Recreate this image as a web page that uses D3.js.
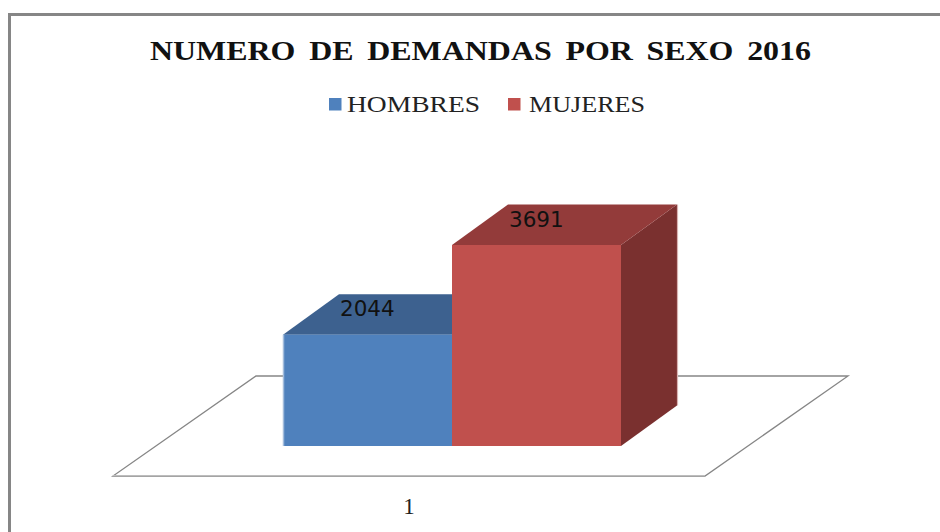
<!DOCTYPE html>
<html>
  <head>
    <meta charset="utf-8">
    <title>Numero de demandas por sexo 2016</title>
    <style>
      body{
        margin: 0;
        background: white;
      }
      svg{
        display: block;
      }
      .serif{
        font-family: "Liberation Serif", serif;
      }
      .tick text{
        font-family: "Liberation Serif", serif;
        font-size: 23px;
        fill: #222;
      }
    </style>
  </head>
  <body>
    <div id="chart"></div>
  </body>
  <script src="https://d3js.org/d3.v7.min.js"></script>
  <script>
    var title = "NUMERO DE DEMANDAS POR SEXO 2016"
    var categories = ["1"]
    var seriesNames = ["HOMBRES", "MUJERES"]
    var seriesValues = [2044, 3691]
    var frontColors = ["#4f81bd", "#c0504d"]
    var topColors = ["#3d618f", "#933b3a"]
    var sideColors = ["#31507a", "#7a302f"]

    var width = 940, height = 532
    var depthX = 56, depthY = -40.5
    var floorDepthX = 143, floorDepthY = -100

    var svg = d3.select("#chart").append("svg")
      .attr("width", width).attr("height", height)

    var x = d3.scaleBand().domain(seriesNames).range([283, 621])
    var y = d3.scaleLinear().domain([0, 3691]).range([446, 245])
    var xCat = d3.scaleBand().domain(categories).range([113, 705])

    function pts(a){
      return a.map(function(p){ return p.join(",") }).join(" ")
    }

    // frame, only left and top show in the picture
    svg.append("path")
      .attr("d", "M9.5,532V14.5H940")
      .attr("fill", "none").attr("stroke", "#868686").attr("stroke-width", 3)

    // title
    svg.append("text").attr("class", "serif")
      .attr("x", 150).attr("y", 60)
      .attr("font-size", 28).attr("font-weight", "bold").attr("fill", "#111")
      .attr("word-spacing", 5)
      .attr("textLength", 661).attr("lengthAdjust", "spacingAndGlyphs")
      .text(title)

    // legend
    var legendX = [329, 508]
    var legendLen = [133, 116]
    var legend = svg.selectAll(".legend").data(seriesNames).enter()
      .append("g").attr("class", "legend")
    legend.append("rect")
      .attr("x", function(d, i){ return legendX[i] })
      .attr("y", 98).attr("width", 12.5).attr("height", 12.5)
      .attr("fill", function(d, i){ return frontColors[i] })
    legend.append("text").attr("class", "serif")
      .attr("x", function(d, i){ return legendX[i] + 18 + i * 3 })
      .attr("y", 112).attr("font-size", 24).attr("fill", "#222")
      .attr("textLength", function(d, i){ return legendLen[i] })
      .attr("lengthAdjust", "spacingAndGlyphs")
      .text(function(d){ return d })

    // floor of the 3d box
    var floorY = 476
    var x0 = xCat.range()[0], x1 = xCat.range()[1]
    svg.append("polygon")
      .attr("points", pts([
        [x0, floorY], [x1, floorY],
        [x1 + floorDepthX, floorY + floorDepthY], [x0 + floorDepthX, floorY + floorDepthY]
      ]))
      .attr("fill", "white").attr("stroke", "#868686").attr("stroke-width", 1.3)
    svg.append("line")
      .attr("x1", x0).attr("x2", x1).attr("y1", floorY - 0.5).attr("y2", floorY - 0.5)
      .attr("stroke", "#bdbdbd").attr("stroke-width", 1)

    // bars, left to right so the red one covers the side of the blue one
    var bars = svg.selectAll(".bar").data(seriesValues).enter()
      .append("g").attr("class", "bar")
    bars.each(function(d, i){
      var g = d3.select(this)
      var name = seriesNames[i]
      var l = x(name), r = l + x.bandwidth()
      var t = y(d), b = y(0)
      g.append("polygon")
        .attr("points", pts([[r, b], [r, t], [r + depthX, t + depthY], [r + depthX, b + depthY]]))
        .attr("fill", sideColors[i])
      g.append("polygon")
        .attr("points", pts([[l, t], [r, t], [r + depthX, t + depthY], [l + depthX, t + depthY]]))
        .attr("fill", topColors[i])
      g.append("rect")
        .attr("x", l).attr("y", t).attr("width", r - l).attr("height", b - t)
        .attr("fill", frontColors[i])
    })

    // light edges left by the original rendering
    svg.append("line")
      .attr("x1", x(seriesNames[0]) + 0.5).attr("x2", x(seriesNames[0]) + 0.5)
      .attr("y1", y(seriesValues[0])).attr("y2", y(0))
      .attr("stroke", "#a3bcdc").attr("stroke-width", 1.5)
    svg.append("line")
      .attr("x1", x(seriesNames[1]) + x.bandwidth() + depthX + 0.5)
      .attr("x2", x(seriesNames[1]) + x.bandwidth() + depthX + 0.5)
      .attr("y1", y(seriesValues[1]) + depthY).attr("y2", y(0) + depthY)
      .attr("stroke", "#d9b3b2").attr("stroke-width", 1.2)

    // value labels sit on the top faces
    svg.selectAll(".value").data(seriesValues).enter()
      .append("text").attr("class", "value")
      .attr("x", function(d, i){ return x(seriesNames[i]) + depthX + 1 })
      .attr("y", function(d){ return y(d) + depthY + 22 })
      .attr("font-family", "DejaVu Sans").attr("font-size", 21.5).attr("fill", "#111")
      .text(function(d){ return d })

    // category axis
    var axis = svg.append("g")
      .attr("transform", "translate(0," + floorY + ")")
      .call(d3.axisBottom(xCat).tickSize(0).tickPadding(22))
    axis.select(".domain").remove()
  </script>
</html>
